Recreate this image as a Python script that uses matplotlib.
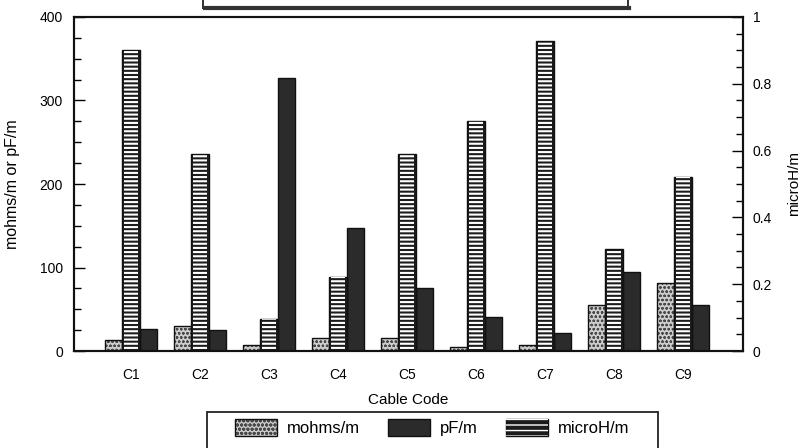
import matplotlib
matplotlib.use("Agg")
import matplotlib.pyplot as plt
from matplotlib.patches import Rectangle, Patch
from matplotlib.legend_handler import HandlerTuple
from matplotlib.ticker import MultipleLocator
import numpy as np

plt.rcParams['font.family'] = ['Liberation Sans', 'DejaVu Sans']

categories = ["C1", "C2", "C3", "C4", "C5", "C6", "C7", "C8", "C9"]
mohms = [13, 30, 7, 15, 15, 5, 7, 55, 82]          # mohms/m (left axis)
pF = [26, 25, 327, 147, 75, 41, 22, 95, 55]         # pF/m (left axis)
microH = [0.90, 0.59, 0.097, 0.222, 0.59, 0.689, 0.928, 0.304, 0.522]  # microH/m (right axis)

W, H = 802, 448
fig = plt.figure(figsize=(W / 100, H / 100), dpi=100)
ax = fig.add_axes([74 / W, 1 - 351 / H, (743 - 74) / W, (351 - 17) / H])
ax2 = ax.twinx()

x = np.arange(len(categories))
w = 0.255
DARK = '#2b2b2b'
STRIPE = '#1c1c1c'
LIGHT = '#cdcdcd'

# mohms/m stippled bars
with plt.rc_context({'hatch.linewidth': 0.6}):
    ax.bar(x - w, mohms, w, color=LIGHT, edgecolor='#4a4a4a', hatch='oooo', linewidth=0)
ax.bar(x - w, mohms, w, fill=False, edgecolor='#111111', linewidth=1.0)
# pF/m dark bars
ax.bar(x + w, pF, w, color=DARK, edgecolor='#111111', linewidth=1.0)
# microH/m striped bars (right axis)
ax2.bar(x, microH, w, color=STRIPE, edgecolor='#111111', linewidth=1.0)
with plt.rc_context({'hatch.linewidth': 1.5}):
    ax2.bar(x, microH, w * 0.76, fill=False, edgecolor='white', hatch='----', linewidth=0)

ax.set_xlim(-0.826, 8.87)
ax.set_ylim(0, 400)
ax2.set_ylim(0, 1)
ax.set_xticks(x)
ax.set_xticklabels(categories, fontsize=10)
ax.tick_params(axis='x', length=0, pad=12)
ax.yaxis.set_major_locator(MultipleLocator(100))
ax.yaxis.set_minor_locator(MultipleLocator(25))
ax2.yaxis.set_minor_locator(MultipleLocator(0.05))
ax2.set_yticks([0, 0.2, 0.4, 0.6, 0.8, 1.0])
ax2.set_yticklabels(['0', '0.2', '0.4', '0.6', '0.8', '1'])
ax.tick_params(axis='y', which='major', direction='in', length=8, width=1, labelsize=10, pad=8)
ax.tick_params(axis='y', which='minor', direction='in', length=5, width=1)
ax2.tick_params(axis='y', which='major', direction='in', length=8, width=1, labelsize=10, pad=7)
ax2.tick_params(axis='y', which='minor', direction='in', length=5, width=1)

for a in (ax, ax2):
    for s in a.spines.values():
        s.set_linewidth(1.5)
        s.set_color('#111111')

ax.set_xlabel("Cable Code", fontsize=11, labelpad=8)
ax.set_ylabel("mohms/m or pF/m", fontsize=11.5)
ax.yaxis.set_label_coords(-0.081, 0.5)
ax2.set_ylabel("microH/m", fontsize=11)
ax2.yaxis.set_label_coords(1.066, 0.5)

# partially visible title box at the top
fig.add_artist(Rectangle((203 / W, 1 - 9 / H), (628 - 203) / W, 30 / H,
                         transform=fig.transFigure, fill=False, edgecolor='#222222', linewidth=1.3))
fig.add_artist(plt.Line2D([205 / W, 629 / W], [1 - 8 / H, 1 - 8 / H], transform=fig.transFigure,
                          color='#333333', linewidth=3))

# legend frame
fig.add_artist(Rectangle((207 / W, 1 - 470 / H), (658 - 207) / W, (470 - 412) / H,
                         transform=fig.transFigure, fill=False, edgecolor='#222222', linewidth=1.3))

h_mohms = (Patch(facecolor=LIGHT, edgecolor='#4a4a4a', hatch='oooo', linewidth=0),
           Patch(fill=False, edgecolor='#111111', linewidth=1.0))
h_pF = Patch(facecolor=DARK, edgecolor='#111111', linewidth=1.0)
with plt.rc_context({'hatch.linewidth': 1.5}):
    h_microH = (Patch(facecolor=STRIPE, edgecolor='#111111', linewidth=1.0),
                Patch(fill=False, edgecolor='white', hatch='---', linewidth=0))
leg = fig.legend([h_mohms, h_pF, h_microH], ["mohms/m", "pF/m", "microH/m"],
                 handler_map={tuple: HandlerTuple(ndivide=1, pad=0)},
                 loc='upper left', bbox_to_anchor=(235 / W, 1 - 419 / H),
                 ncol=3, frameon=False, fontsize=12, borderpad=0, borderaxespad=0,
                 handlelength=2.5, handleheight=1.2, handletextpad=0.6, columnspacing=1.7)

fig.savefig("out.png", dpi=100)
